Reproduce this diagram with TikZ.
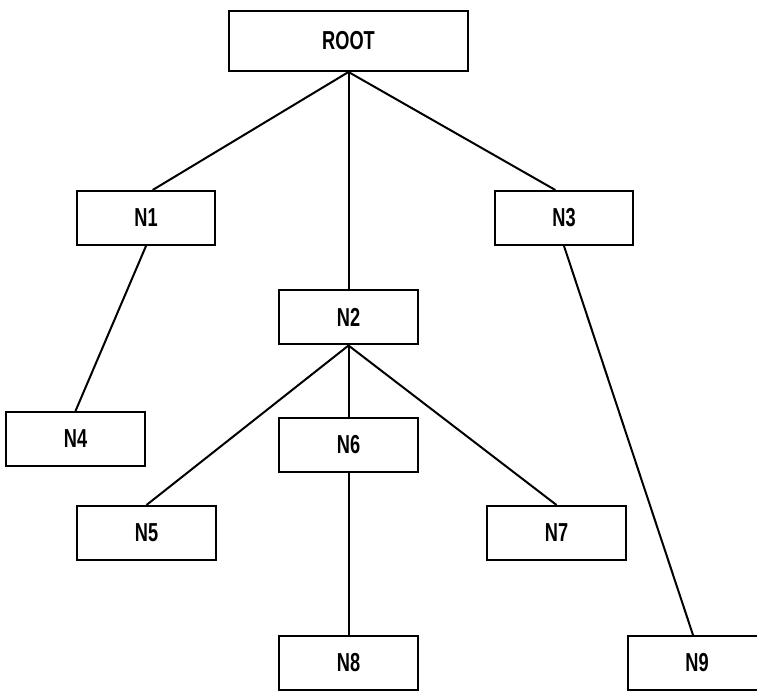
\documentclass[tikz,border=0pt]{standalone}
\usepackage{fontspec}
\setmainfont{Liberation Sans}[FakeStretch=0.7]
\usetikzlibrary{positioning}

\tikzset{
  treebox/.style={draw, line width=1.5pt, minimum width=104pt, minimum height=40.5pt,
    inner sep=0pt, font=\fontsize{19.5}{22}\selectfont\bfseries},
  edge/.style={line width=1.5pt}
}

\begin{document}
\begin{tikzpicture}[x=0.75pt, y=-0.75pt]
  \useasboundingbox (0,0) rectangle (757,691);

  % Nodes
  \node[treebox, minimum width=179pt, minimum height=45pt] (root) at (348.5,41) {ROOT};
  \node[treebox] (n1) at (146,218) {N1};
  \node[treebox] (n2) at (348.5,317.5) {N2};
  \node[treebox] (n3) at (564,218) {N3};
  \node[treebox] (n4) at (75.5,439) {N4};
  \node[treebox] (n5) at (146.5,533) {N5};
  \node[treebox] (n6) at (348.5,445) {N6};
  \node[treebox] (n7) at (556.5,533) {N7};
  \node[treebox] (n8) at (348.5,663) {N8};
  \node[treebox] (n9) at (697,663) {N9};

  % Edges
  \draw[edge] (root.south) -- ([xshift=5pt]n1.north);
  \draw[edge] (root.south) -- (n2.north);
  \draw[edge] (root.south) -- ([xshift=-6.5pt]n3.north);
  \draw[edge] (n1.south) -- (n4.north);
  \foreach \child in {n5, n6, n7}
    \draw[edge] (n2.south) -- (\child.north);
  \draw[edge] (n6.south) -- (n8.north);
  \draw[edge] (n3.south) -- ([xshift=-3pt]n9.north);
\end{tikzpicture}
\end{document}
